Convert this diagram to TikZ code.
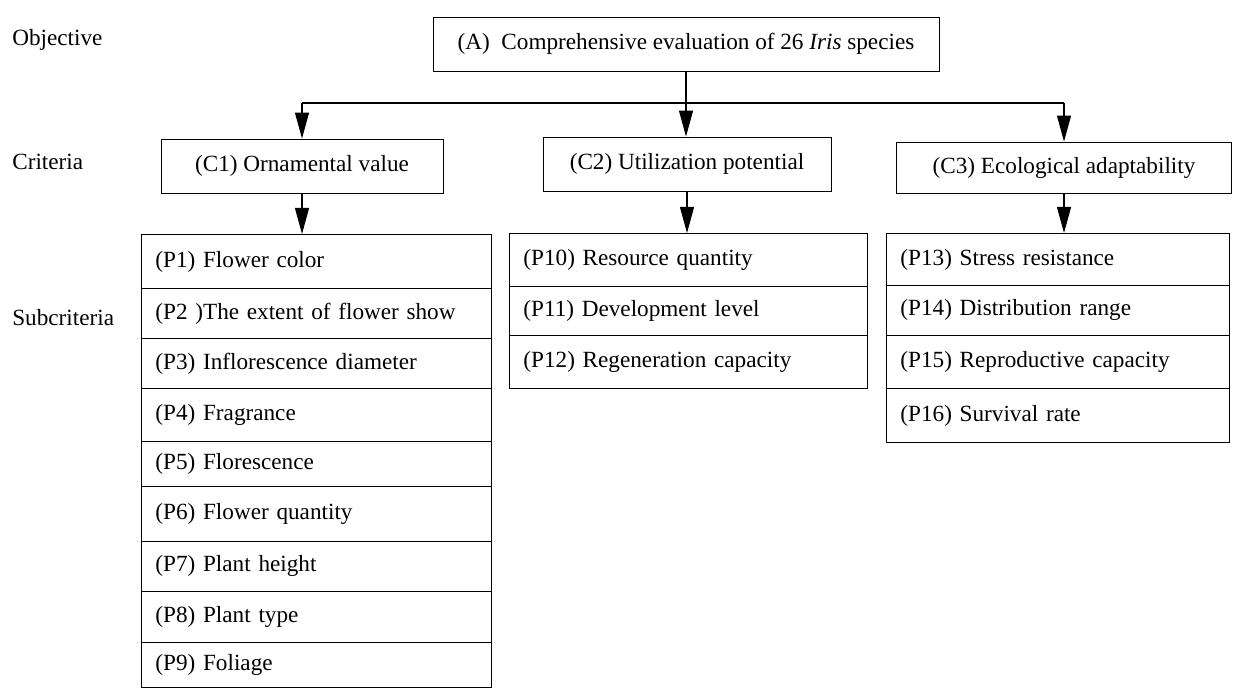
\documentclass[tikz,border=0pt]{standalone}
\usepackage{fontspec}
\setmainfont{Liberation Serif}
\usetikzlibrary{arrows.meta}
\tikzset{
	box/.style={draw, line width=0.5pt, inner sep=0pt, align=center},
	pbox/.style={draw, line width=0.5pt, anchor=north west, inner xsep=0.28cm, inner ysep=0pt, align=left},
	arr/.style={line width=0.6pt, -{Triangle[length=0.52cm, width=0.28cm]}},
	lev/.style={anchor=west, inner sep=0pt}
}

\begin{document}
\begin{tikzpicture}[x=0.02cm, y=-0.02cm, font=\fontsize{13.2}{16}\selectfont]
			%%%%% START %%%%%
			\useasboundingbox (0, 0) rectangle (1233, 688);
			
			\node[lev] (obj) at (12, 40) {Objective};
			\node[lev] (cri) at (12, 162) {Criteria};
			\node[lev] (sub) at (12, 318) {Subcriteria};
			
			\node[box, minimum width=10.12cm, minimum height=1.08cm] (a) at (686, 44) {(A)\ \ Comprehensive evaluation of 26 \textit{Iris} species};
			
			\node[box, minimum width=5.64cm, minimum height=1.08cm] (c1) at (302, 166) {(C1) Ornamental value};
			\node[box, minimum width=5.76cm, minimum height=1.08cm] (c2) at (687, 164) {(C2) Utilization potential};
			\node[box, minimum width=6.7cm, minimum height=1.02cm] (c3) at (1064, 167.5) {(C3) Ecological adaptability};
			
			% subcriteria columns
			\foreach \n/\ya/\yb/\txt in {1/234/288/(P1) Flower color, 2/288/338/(P2 )The extent of flower show,
				3/338/388/(P3) Inflorescence diameter, 4/388/441/(P4) Fragrance, 5/441/486/(P5) Florescence,
				6/486/541/(P6) Flower quantity, 7/541/591/(P7) Plant height, 8/591/642/(P8) Plant type,
				9/642/687/(P9) Foliage}
				\node[pbox, text width=6.44cm, minimum height={(\yb-\ya)*0.02cm}] (p\n) at (141, \ya) {\txt};
			
			\foreach \n/\ya/\yb/\txt in {10/233/286/(P10) Resource quantity, 11/286/335/(P11) Development level,
				12/335/388/(P12) Regeneration capacity}
				\node[pbox, text width=6.6cm, minimum height={(\yb-\ya)*0.02cm}] (p\n) at (509, \ya) {\txt};
			
			\foreach \n/\ya/\yb/\txt in {13/233/285/(P13) Stress resistance, 14/285/335/(P14) Distribution range,
				15/335/388/(P15) Reproductive capacity, 16/388/442/(P16) Survival rate}
				\node[pbox, text width=6.3cm, minimum height={(\yb-\ya)*0.02cm}] (p\n) at (886, \ya) {\txt};
			
			% connectors
			\coordinate (bar) at (0, 103);
			\draw[line width=0.6pt] (c1.north |- bar) -- (c3.north |- bar);
			\draw[arr] (a.south) -- (a.south |- c2.north);
			\draw[arr] (c1.north |- bar) -- (c1.north);
			\draw[arr] (c3.north |- bar) -- (c3.north);
			
			\draw[arr] (c1.south) -- (c1.south |- p1.north);
			\draw[arr] (c2.south) -- (c2.south |- p10.north);
			\draw[arr] (c3.south) -- (c3.south |- p13.north);
			
			%%%%% END %%%%%
		\end{tikzpicture}
\end{document}
